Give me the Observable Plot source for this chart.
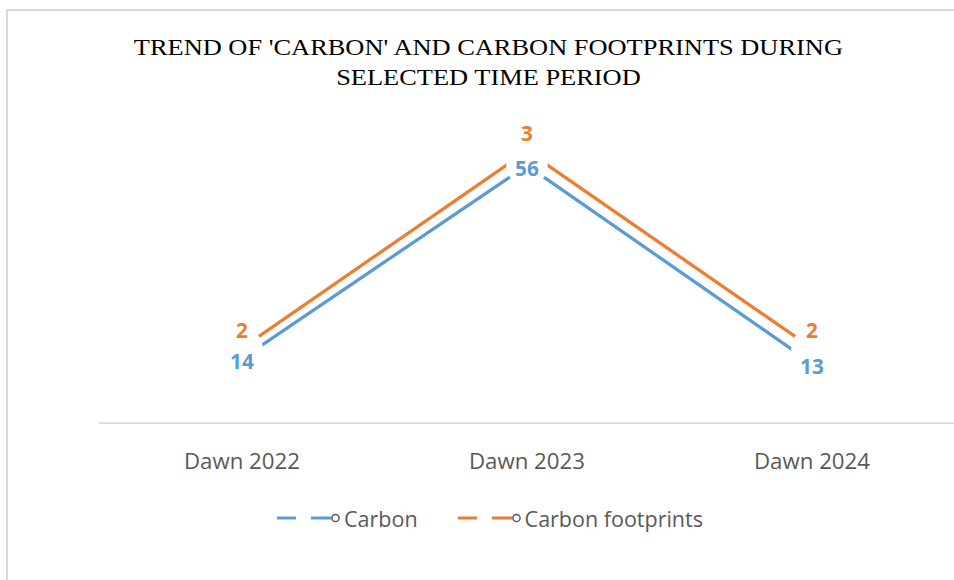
<!DOCTYPE html>
<html>
<head>
<meta charset="utf-8">
<script src="https://cdn.jsdelivr.net/npm/d3@7"></script>
<script src="https://cdn.jsdelivr.net/npm/@observablehq/plot@0.6"></script>
<style>
  html, body { margin: 0; padding: 0; background: #fff; overflow: hidden; width: 954px; height: 580px; }
  #page { position: relative; width: 954px; height: 580px; overflow: hidden; }
  #frame { position: absolute; left: 6px; top: 9px; width: 1200px; height: 1000px; border: 2px solid #d9d9d9; box-sizing: border-box; pointer-events: none; }
  #title { position: relative; width: 976px; height: 100px; box-sizing: border-box; padding-top: 32px; text-align: center;
           font-family: "Liberation Serif", "Times New Roman", serif; font-size: 24px; line-height: 30px; color: #000; }
  #title span { display: inline-block; transform: scaleX(1.1); transform-origin: center; white-space: nowrap; }
  #chart { position: relative; height: 400px; }
  #chart svg { display: block; overflow: visible; }
  #legend { position: relative; width: 980px; height: 36px; display: flex; justify-content: center; align-items: center; gap: 40px;
            font-family: "Open Sans", sans-serif; font-size: 21.5px; color: #595959; }
  .item { display: flex; align-items: center; }
  .item svg { display: block; margin-right: 3px; }
</style>
</head>
<body>
<div id="page">
  <div id="frame"></div>
  <div id="title"><span>TREND OF 'CARBON' AND CARBON FOOTPRINTS DURING</span><br><span>SELECTED TIME PERIOD</span></div>
  <div id="chart"></div>
  <div id="legend"></div>
</div>
<script>
// ---- data ----
const categories = ["Dawn 2022", "Dawn 2023", "Dawn 2024"];
const carbon = [14, 56, 13];
const footprints = [2, 3, 2];
const seriesNames = ["Carbon", "Carbon footprints"];
// axis ranges (primary for Carbon, secondary for Carbon footprints)
const primaryDomain = [0, 60];
const secondaryDomain = [1.62, 3.02];

const blue = "#5B9BD5", orange = "#ED7D31";
const toPrimary = d3.scaleLinear().domain(secondaryDomain).range(primaryDomain);

const carbonRows = categories.map((c, i) => ({cat: c, value: carbon[i], y: carbon[i]}));
const footRows = categories.map((c, i) => ({cat: c, value: footprints[i], y: toPrimary(footprints[i])}));

const labelFont = "'Open Sans', sans-serif";

const chart = Plot.plot({
  width: 964,
  height: 400,
  marginLeft: 100,
  marginRight: 0,
  marginTop: 47,
  marginBottom: 74,
  x: {type: "point", domain: categories, padding: 0.5, axis: null},
  y: {domain: primaryDomain, axis: null},
  style: {background: "transparent", overflow: "visible"},
  marks: [
    Plot.ruleY([0], {stroke: "#d9d9d9", strokeWidth: 1.8}),
    Plot.line(carbonRows, {x: "cat", y: "y", stroke: blue, strokeWidth: 3.3}),
    Plot.line(footRows, {x: "cat", y: "y", stroke: orange, strokeWidth: 3.3}),
    Plot.dot(carbonRows.concat(footRows), {x: "cat", y: "y", r: 21, fill: "white"}),
    Plot.text(carbonRows, {x: "cat", y: "y", text: d => String(d.value), fill: blue, fontWeight: "bold",
      fontSize: 21, fontFamily: labelFont, lineAnchor: "middle", dy: 4}),
    Plot.text(footRows, {x: "cat", y: "y", text: d => String(d.value), fill: orange, fontWeight: "bold",
      fontSize: 21, fontFamily: labelFont, lineAnchor: "middle", dy: -17}),
    Plot.text(categories, {x: d => d, frameAnchor: "bottom", lineAnchor: "top", dy: 30, text: d => d,
      fill: "#595959", fontSize: 22.5, fontFamily: labelFont})
  ]
});
document.getElementById("chart").appendChild(chart);

// ---- legend ----
const legend = document.getElementById("legend");
[[seriesNames[0], blue], [seriesNames[1], orange]].forEach(([name, color]) => {
  const item = document.createElement("div");
  item.className = "item";
  item.innerHTML =
    `<svg width="64" height="16" viewBox="0 0 64 16">
       <line x1="0" y1="8" x2="19" y2="8" stroke="${color}" stroke-width="3"/>
       <line x1="34" y1="8" x2="54" y2="8" stroke="${color}" stroke-width="3"/>
       <circle cx="58.5" cy="8" r="3.6" fill="white" stroke="#595959" stroke-width="1.5"/>
     </svg><span>${name}</span>`;
  legend.appendChild(item);
});
</script>
</body>
</html>
